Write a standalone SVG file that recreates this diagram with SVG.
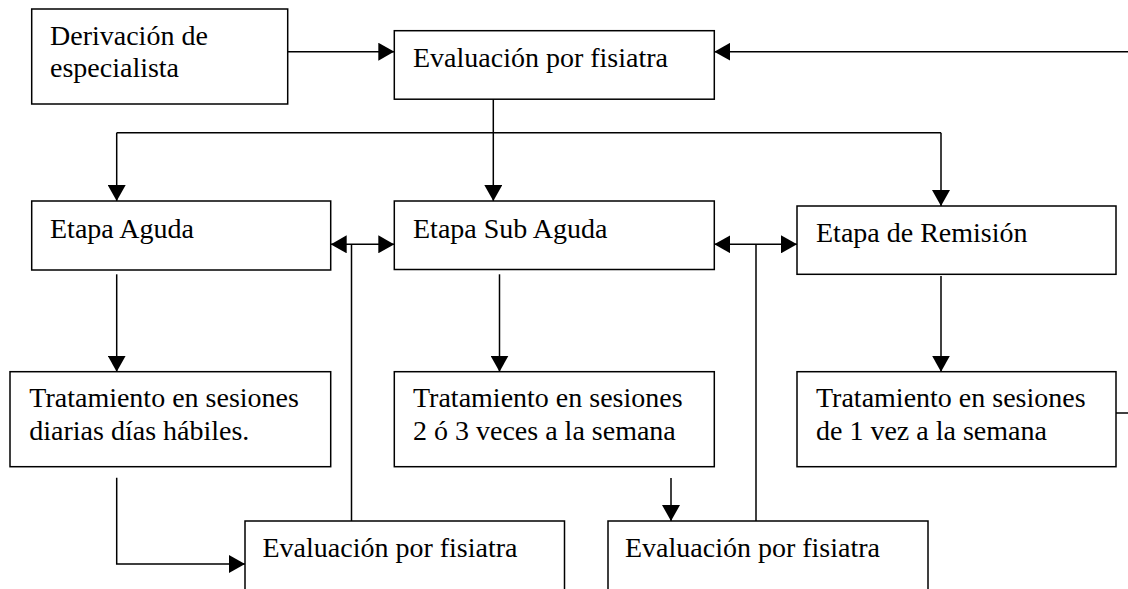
<svg xmlns="http://www.w3.org/2000/svg" width="1128" height="589" viewBox="0 0 1128 589">
<style>
.box{fill:#fff;stroke:#000;stroke-width:1.5}
.t{font-family:"Liberation Serif","Times New Roman",serif;font-size:28px;fill:#000}
.c{fill:none;stroke:#000;stroke-width:1.5}
.a{marker-end:url(#ah)}
.d{marker-start:url(#ah);marker-end:url(#ah)}
</style>
<defs>
<marker id="ah" markerUnits="userSpaceOnUse" markerWidth="16" markerHeight="18" refX="16" refY="9" orient="auto-start-reverse" viewBox="0 0 16 18">
<path d="M0,0 L16,9 L0,18 z" fill="#000"/>
</marker>
</defs>
<rect width="1128" height="589" fill="#fff"/>
<g id="connectors">
<path class="c a" d="M287.7,51.7 H394.3"/>
<path class="c a" d="M1128,51.7 H714.3"/>
<path class="c a" d="M493.3,99.2 V201"/>
<path class="c" d="M116.7,132.7 H941"/>
<path class="c a" d="M116.7,132.7 V201"/>
<path class="c a" d="M941,132.7 V206"/>
<path class="c d" d="M330.7,244.3 H394.3"/>
<path class="c" d="M351.5,244.3 V521"/>
<path class="c d" d="M714.3,244.3 H797"/>
<path class="c" d="M756,244.3 V521"/>
<path class="c a" d="M116.7,274.3 V371.7"/>
<path class="c a" d="M499.5,274.3 V371.7"/>
<path class="c a" d="M941,276 V371.7"/>
<path class="c a" d="M116.7,477.7 V564 H245"/>
<path class="c a" d="M671,478 V521"/>
<path class="c" d="M1116,413 H1128"/>
</g>
<g id="derivacion">
<rect class="box" x="31.7" y="9" width="256" height="95"/>
<text class="t" x="50" y="45">Derivación de</text>
<text class="t" x="50" y="77">especialista</text>
</g>
<g id="evaluacion-top">
<rect class="box" x="394.3" y="30.7" width="320" height="68.5"/>
<text class="t" x="413" y="67">Evaluación por fisiatra</text>
</g>
<g id="etapa-aguda">
<rect class="box" x="31.7" y="201" width="299" height="69"/>
<text class="t" x="50" y="238">Etapa Aguda</text>
</g>
<g id="etapa-subaguda">
<rect class="box" x="394.3" y="201" width="320" height="68.5"/>
<text class="t" x="413" y="238">Etapa Sub Aguda</text>
</g>
<g id="etapa-remision">
<rect class="box" x="797" y="206" width="319" height="68.3"/>
<text class="t" x="816" y="242">Etapa de Remisión</text>
</g>
<g id="trat-aguda">
<rect class="box" x="10" y="371.7" width="320.7" height="95"/>
<text class="t" x="29.3" y="406.7">Tratamiento en sesiones</text>
<text class="t" x="29.3" y="439.5">diarias días hábiles.</text>
</g>
<g id="trat-subaguda">
<rect class="box" x="394.3" y="371.7" width="320" height="95"/>
<text class="t" x="413" y="406.7">Tratamiento en sesiones</text>
<text class="t" x="413" y="439.5">2 ó 3 veces a la semana</text>
</g>
<g id="trat-remision">
<rect class="box" x="797" y="371.7" width="319" height="95"/>
<text class="t" x="816" y="406.7">Tratamiento en sesiones</text>
<text class="t" x="816" y="439.5">de 1 vez a la semana</text>
</g>
<g id="evaluacion-1">
<rect class="box" x="245" y="521" width="319.5" height="100"/>
<text class="t" x="262.5" y="557">Evaluación por fisiatra</text>
</g>
<g id="evaluacion-2">
<rect class="box" x="608" y="521" width="320" height="100"/>
<text class="t" x="625" y="557">Evaluación por fisiatra</text>
</g>
</svg>
